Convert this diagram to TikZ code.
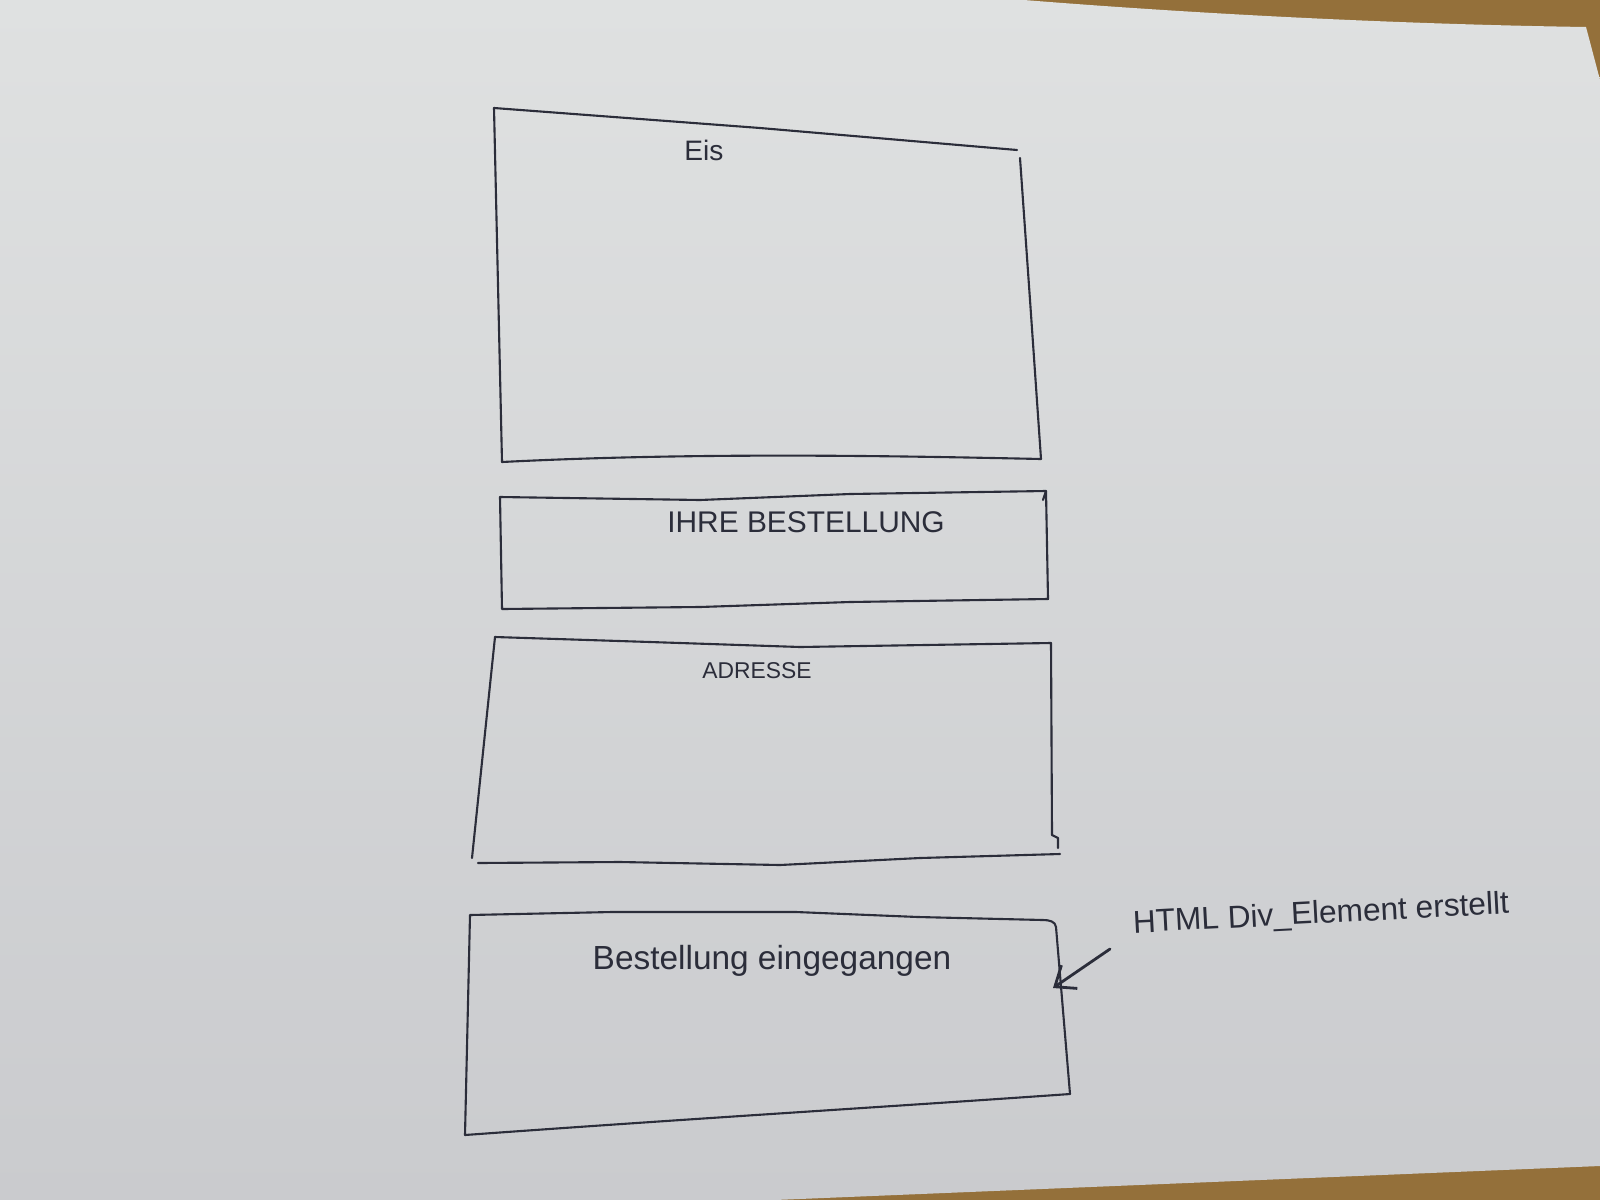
\documentclass[tikz,border=0pt]{standalone}
\usepackage{fontspec}
\setmainfont{Liberation Sans}
\usetikzlibrary{arrows.meta}
\begin{document}
\begin{tikzpicture}[x=0.01cm,y=-0.01cm,
  pen/.style={draw=ink,line width=0.6pt,line join=round,line cap=round},
  label/.style={text=ink,inner sep=0pt},
  pointer/.style={pen,line width=0.8pt,-{Straight Barb[length=5pt,width=8pt,line width=0.8pt]}}]
\definecolor{ink}{HTML}{2B2D3A}
\definecolor{paperTop}{HTML}{DFE1E1}
\definecolor{paperBottom}{HTML}{CACBCE}
\definecolor{wood}{HTML}{94703A}
\useasboundingbox (0,0) rectangle (1600,1200);

% table and sheet of paper
\fill[wood] (0,0) rectangle (1600,1200);
\shade[top color=paperTop,bottom color=paperBottom]
  (0,0) -- (1024,0) .. controls (1250,18) and (1450,25) .. (1586,27)
  -- (1600,80) -- (1600,1166) -- (775,1200) -- (0,1200) -- cycle;

% box: Eis
\coordinate (e1) at (494,108);
\coordinate (e2) at (1017,150);
\coordinate (e3) at (1020,158);
\coordinate (e4) at (1041,459);
\coordinate (e5) at (502,462);
\draw[pen] (e1) -- (760,128) -- (e2);
\draw[pen] (e3) -- (1030,300) -- (e4)
  .. controls (900,456) and (700,452) .. (e5) -- (e1);
\node[label,font=\fontsize{8}{9}\selectfont] (eis) at (704,150) {Eis};

% box: Ihre Bestellung
\coordinate (b1) at (500,497);
\coordinate (b2) at (1046,491);
\coordinate (b3) at (1048,599);
\coordinate (b4) at (502,609);
\draw[pen] (b1) -- (700,500) -- (850,494) -- (b2) -- (b3)
  -- (850,602) -- (700,607) -- (b4) -- cycle;
\draw[pen] (b2) -- (1043,500);
\node[label,font=\fontsize{8.5}{10}\selectfont] (ihre) at (806,522) {IHRE BESTELLUNG};

% box: Adresse
\coordinate (a1) at (495,637);
\coordinate (a2) at (1051,643);
\coordinate (a3) at (1052,835);
\coordinate (a4) at (1060,854);
\coordinate (a5) at (478,863);
\coordinate (a6) at (472,858);
\draw[pen] (a1) -- (650,642) -- (800,647) -- (a2) -- (a3);
\draw[pen] (a3) -- (1058,838) -- (1058,848);
\draw[pen] (a5) -- (620,862) -- (780,865) -- (920,858) -- (a4);
\draw[pen] (a1) -- (a6);
\node[label,font=\fontsize{6.5}{8}\selectfont] (adresse) at (757,671) {ADRESSE};

% box: Bestellung eingegangen
\coordinate (n1) at (470,915);
\coordinate (n2) at (1043,920);
\coordinate (n3) at (1056,927);
\coordinate (n4) at (1070,1094);
\coordinate (n5) at (465,1135);
\draw[pen] (n1) -- (612,912) -- (796,912) -- (918,917) -- (n2)
  to[out=0,in=95] (n3) -- (n4)
  .. controls (900,1106) and (700,1118) .. (n5) -- cycle;
\node[label,font=\fontsize{9.5}{11}\selectfont] (eingang) at (772,961) {Bestellung eingegangen};

% annotation with pointer
\node[label,font=\fontsize{9}{11}\selectfont,rotate=3] (note) at (1321,915) {HTML Div\_Element erstellt};
\coordinate (tail) at (1110,949);
\coordinate (tip) at (1053,988);
\draw[pointer] (tail) -- (tip);
\end{tikzpicture}
\end{document}
